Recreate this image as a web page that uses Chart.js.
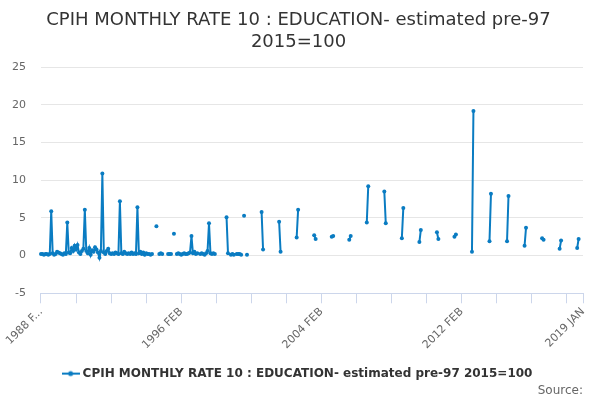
<!DOCTYPE html>
<html>
<head>
<meta charset="utf-8">
<title>CPIH monthly rate 10 : Education</title>
<script src="https://cdn.jsdelivr.net/npm/chart.js@4.4.1/dist/chart.umd.min.js"></script>
<style>
  html, body { margin: 0; padding: 0; background: #fff; }
  #wrap { width: 600px; height: 400px; }
</style>
</head>
<body>
<div id="wrap"><canvas id="rateChart"></canvas></div>
<script>
// Month names used to build the category labels (1988 FEB .. 2019 JAN)
const monthNames = ["JAN", "FEB", "MAR", "APR", "MAY", "JUN", "JUL", "AUG", "SEP", "OCT", "NOV", "DEC"];
const firstYear = 1988;
const monthCount = 372;

// Monthly rate, 1988 FEB onwards (null = no value shown)
const earlyRate = [
    0.2, 0.2, 0.1, 0.2, 0.2, 0.1, 0.2, 5.9, 0.3, 0.1, 0.2, 0.5,
    0.4, 0.3, 0.2, 0.1, 0.3, 0.2, 4.4, 0.4, 0.3, 1.0, 0.6, 1.3,
    0.8, 1.4, 0.4, 0.2, 0.6, 0.9, 6.1, 0.6, 0.3, 1.0, 0.1, 0.7,
    0.5, 1.1, 0.8, 0.4, -0.3, 0.6, 10.9, 0.4, 0.2, 0.6, 0.9, 0.3,
    0.2, 0.3, 0.2, 0.4, 0.3, 0.2, 7.2, 0.3, 0.2, 0.5, 0.3, 0.2,
    0.3, 0.2, 0.4, 0.2, 0.3, 0.2, 6.4, 0.3, 0.5, 0.2, 0.4, 0.1,
    0.3, 0.2, 0.2, 0.1, 0.2, null, null, 3.9, null, 0.2, 0.3, 0.2,
    null, null, null, 0.2, 0.2, 0.2, null, 2.9, null, 0.2, 0.3, 0.2,
    0.1, 0.2, 0.3, 0.2, 0.2, 0.3, 0.4, 2.6, 0.3, 0.5, 0.2, 0.3,
    null, 0.2, 0.3, 0.2, 0.1, 0.3, 0.6, 4.3, 0.3, 0.2, 0.3, 0.2,
    null, null, null, null, null, null, null, 5.1, 0.3, null, 0.1, 0.2,
    0.1, null, 0.2, 0.2, 0.2, 0.1, null, 5.3, null, 0.1, null, null
];

// Later years: only September / October values are shown
const laterMonths = [
    "2000 SEP", "2000 OCT", "2001 SEP", "2001 OCT", "2002 SEP", "2002 OCT",
    "2003 SEP", "2003 OCT", "2004 SEP", "2004 OCT", "2005 SEP", "2005 OCT",
    "2006 SEP", "2006 OCT", "2007 SEP", "2007 OCT", "2008 SEP", "2008 OCT",
    "2009 SEP", "2009 OCT", "2010 SEP", "2010 OCT", "2011 SEP", "2011 OCT",
    "2012 SEP", "2012 OCT", "2013 SEP", "2013 OCT", "2014 SEP", "2014 OCT",
    "2015 SEP", "2015 OCT", "2016 SEP", "2016 OCT", "2017 SEP", "2017 OCT",
    "2018 SEP", "2018 OCT"
];
const laterRate = [
    5.8, 0.8, 4.5, 0.5, 2.4, 6.1,
    2.7, 2.2, 2.5, 2.6, 2.1, 2.6,
    4.4, 9.2, 8.5, 4.3, 2.3, 6.3,
    1.8, 3.4, 3.1, 2.2, 2.5, 2.8,
    0.5, 19.2, 1.9, 8.2, 1.9, 7.9,
    1.3, 3.7, 2.3, 2.1, 0.9, 2.0,
    1.0, 2.2
];

const yTicks = [-5, 0, 5, 10, 15, 20, 25];
const seriesName = "CPIH MONTHLY RATE 10 : EDUCATION- estimated pre-97 2015=100";
const lineColor = "#0a7cc2";

// Build labels and the full data row
let labels = [];
for (let i = 0; i < monthCount; i++) {
    let m = (1 + i) % 12;
    let y = firstYear + Math.floor((1 + i) / 12);
    labels.push(y + " " + monthNames[m]);
}
let rateData = labels.map(() => null);
earlyRate.forEach((v, i) => { rateData[i] = v; });
laterMonths.forEach((lbl, k) => { rateData[labels.indexOf(lbl)] = laterRate[k]; });

// Legend symbol: short line with a dot
function legendSymbol() {
    let c = document.createElement("canvas");
    c.width = 18; c.height = 8;
    let g = c.getContext("2d");
    g.strokeStyle = lineColor;
    g.lineWidth = 2;
    g.beginPath(); g.moveTo(0, 4); g.lineTo(18, 4); g.stroke();
    g.fillStyle = lineColor;
    g.beginPath(); g.arc(9, 4, 2.5, 0, Math.PI * 2); g.fill();
    return c;
}

Chart.defaults.font.family = "'DejaVu Sans', sans-serif";
Chart.defaults.animation = false;

new Chart(document.getElementById("rateChart"), {
    type: "line",
    data: {
        labels: labels,
        datasets: [{
            label: seriesName,
            data: rateData,
            borderColor: lineColor,
            backgroundColor: lineColor,
            borderWidth: 2,
            pointRadius: 2,
            pointHoverRadius: 3,
            pointBackgroundColor: lineColor,
            pointBorderWidth: 0,
            spanGaps: false,
            tension: 0
        }]
    },
    options: {
        responsive: true,
        maintainAspectRatio: false,
        layout: { padding: { left: -3, right: 0, top: 0, bottom: 2 } },
        plugins: {
            title: {
                display: true,
                text: ["CPIH MONTHLY RATE 10 : EDUCATION- estimated pre-97", "2015=100"],
                color: "#333333",
                font: { size: 18, weight: "normal" },
                padding: { top: 10, bottom: 14 },
                lineHeight: 1.05
            },
            subtitle: {
                display: true,
                text: "Source:",
                position: "bottom",
                align: "end",
                fullSize: false,
                color: "#666666",
                font: { size: 12, weight: "normal" },
                padding: { top: -6, bottom: 0 }
            },
            legend: {
                position: "bottom",
                labels: {
                    usePointStyle: true,
                    pointStyle: legendSymbol(),
                    color: "#333333",
                    font: { size: 12, weight: "bold" },
                    padding: 3
                }
            },
            tooltip: { enabled: false }
        },
        scales: {
            x: {
                type: "category",
                afterFit: function (axis) {
                    axis.height += 11;
                },
                grid: {
                    drawOnChartArea: false,
                    drawTicks: true,
                    tickLength: 10,
                    color: "#ccd6eb"
                },
                border: { display: true, color: "#ccd6eb", width: 1 },
                ticks: {
                    autoSkip: false,
                    minRotation: 45,
                    maxRotation: 45,
                    color: "#666666",
                    font: { size: 11 },
                    padding: 2,
                    callback: function (val, idx) {
                        if (idx === 0) return "1988 F...";
                        if (idx % 96 === 0 || idx === monthCount - 1) return labels[idx];
                        if (idx % 24 === 0) return "";
                        return null;
                    }
                }
            },
            y: {
                min: -5,
                max: 25,
                afterBuildTicks: function (axis) {
                    axis.ticks = yTicks.map(v => ({ value: v }));
                },
                grid: { color: "#e6e6e6", drawTicks: false },
                border: { display: false },
                ticks: {
                    color: "#666666",
                    font: { size: 11 },
                    padding: 15
                }
            },
            // empty right-hand axis, only keeps a margin on the right
            yRight: {
                position: "right",
                min: -5,
                max: 25,
                grid: { display: false },
                border: { display: false },
                ticks: { display: false },
                afterFit: function (axis) {
                    axis.width = 17;
                }
            }
        }
    }
});
</script>
</body>
</html>
